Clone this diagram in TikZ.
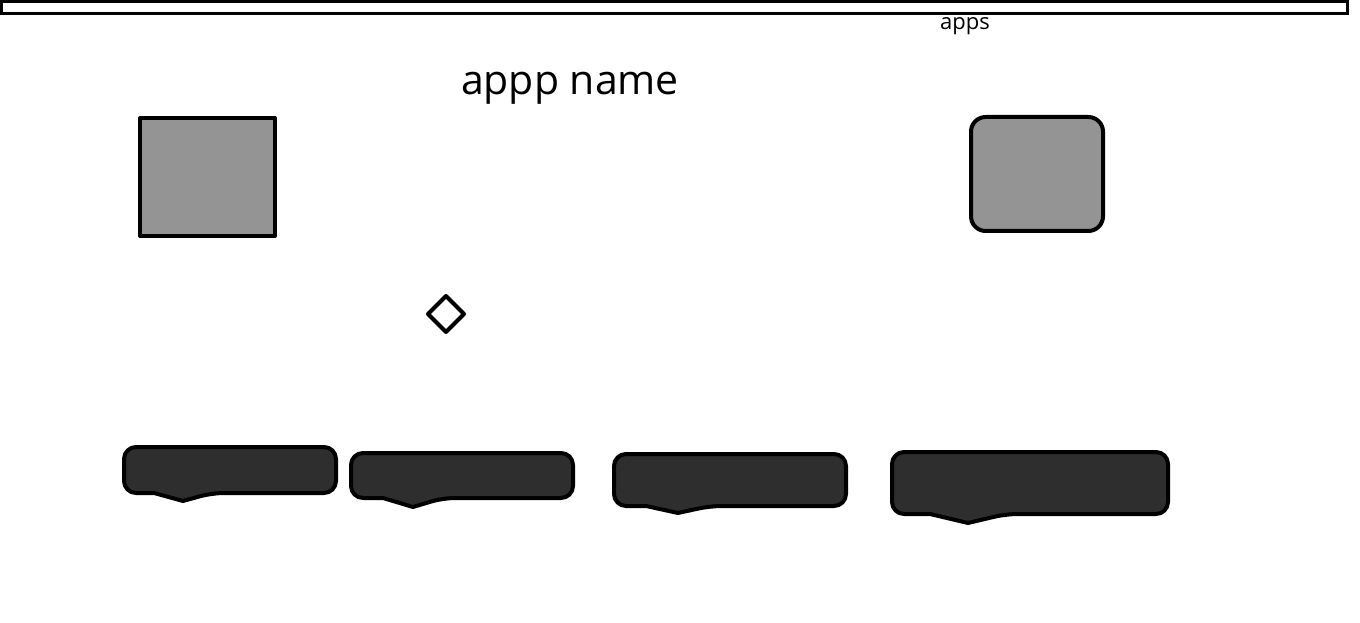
\documentclass[tikz,border=0pt]{standalone}
\usepackage{fontspec}
\setmainfont{Open Sans}
\usepackage{tikz}

\tikzset{
    thick line/.style={line width=3pt, draw=black, line join=round},
    tile/.style={thick line, fill=black!42},
    tag/.style={thick line, fill=black!82, rounded corners=9},
}

\begin{document}
\begin{tikzpicture}[x=0.75pt, y=-0.75pt]
    \useasboundingbox (0,0) rectangle (1360,623);
    % top bar
    \draw[line width=2.4pt] (1.5,1.5) rectangle (1347.5,13.5);
    \node at (965,26) (apps) {\fontsize{16.5}{18}\selectfont apps};
    \node at (570,88) (title) {\fontsize{30.75}{34}\selectfont appp name};
    % icons
    \draw[tile] (140,118) rectangle (275,236);
    \draw[tile, rounded corners=11] (971,117) rectangle (1103,231);
    \draw[thick line, fill=white] (446,296) -- (464,314) -- (446,332) -- (428,314) -- cycle;
    % tags
    \begin{scope}
    \draw[tag] (124,447) -- (336,447) -- (336,493) -- (212,493) [sharp corners] -- (183,501) -- (154,493) [rounded corners=9] -- (124,493) -- cycle;
    \draw[tag] (351,453) -- (573,453) -- (573,498) -- (443,498) [sharp corners] -- (413,507) -- (383,498) [rounded corners=9] -- (351,498) -- cycle;
    \draw[tag] (614,454) -- (846,454) -- (846,506) -- (710,506) [sharp corners] -- (678,513) -- (646,506) [rounded corners=9] -- (614,506) -- cycle;
    \draw[tag] (892,452) -- (1168,452) -- (1168,514) -- (1006,514) [sharp corners] -- (968,523) -- (930,514) [rounded corners=9] -- (892,514) -- cycle;
    \end{scope}
\end{tikzpicture}
\end{document}
